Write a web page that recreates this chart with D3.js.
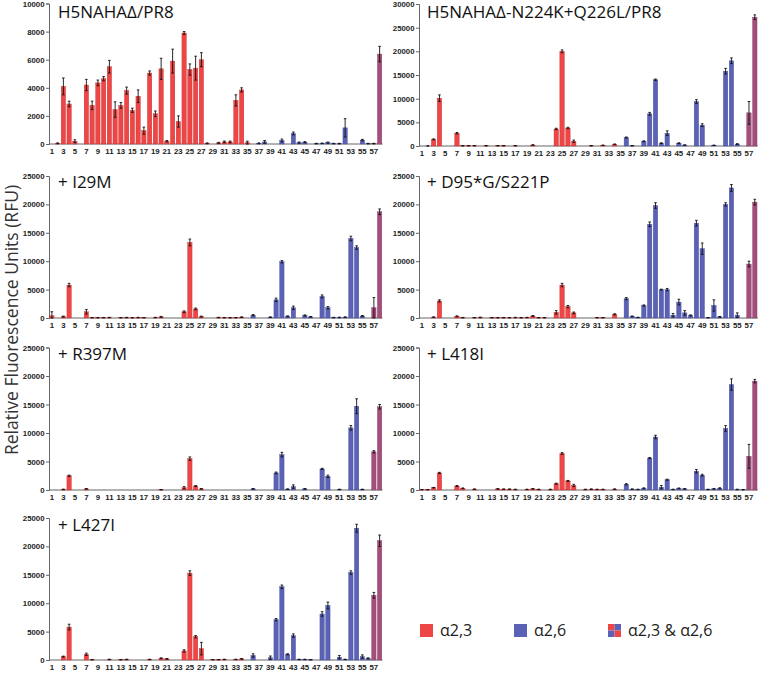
<!DOCTYPE html>
<html><head><meta charset="utf-8">
<script src="https://cdn.jsdelivr.net/npm/d3@7"></script>
<style>body{margin:0;background:#fff}svg{display:block}</style>
</head><body>
<svg id="chart" width="760" height="673"></svg>
<script>
// ---------- DATA ----------
const categories = [1,2,3,4,5,6,7,8,9,10,11,12,13,14,15,16,17,18,19,20,21,22,23,24,25,26,27,28,29,30,31,32,33,34,35,36,37,38,39,40,41,42,43,44,45,46,47,48,49,50,51,52,53,54,55,56,57,58];
const glycanType = ["a23","a23","a23","a23","a23","a23","a23","a23","a23","a23","a23","a23","a23","a23","a23","a23","a23","a23","a23","a23","a23","a23","a23","a23","a23","a23","a23","a23","a23","a23","a23","a23","a23","a23","a23",
  "a26","a26","a26","a26","a26","a26","a26","a26","a26","a26","a26","a26","a26","a26","a26","a26","a26","a26","a26","a26","a26",
  "both","both"];
const xTickLabels = [1,3,5,7,9,11,13,15,17,19,21,23,25,27,29,31,33,35,37,39,41,43,45,47,49,51,53,55,57];
const panelTitles = ["H5NAHAΔ/PR8","H5NAHAΔ-N224K+Q226L/PR8","+ I29M","+ D95*G/S221P","+ R397M","+ L418I","+ L427I"];
const yMaxes = [10000,30000,25000,25000,25000,25000,25000];
const yTicksA = [0,2000,4000,6000,8000,10000];
const yTicksB = [0,5000,10000,15000,20000,25000,30000];
const yTicksC = [0,5000,10000,15000,20000,25000];
const legendLabels = ["α2,3","α2,6","α2,3 & α2,6"];
const yTitle = "Relative Fluorescence Units (RFU)";

const valsA = [0,50,4100,2850,200,0,4200,2750,4350,4650,5500,2450,2750,3800,2400,3400,950,5050,2150,5350,200,5900,1600,7900,5300,5400,6000,50,0,80,150,150,3100,3850,100,0,50,150,0,0,250,0,750,100,130,0,30,50,100,30,30,1150,0,0,280,30,30,6400];
const errA  = [0,30,600,200,100,0,400,300,200,150,450,550,200,250,150,450,250,150,200,750,50,850,400,100,400,850,500,30,0,40,60,60,400,150,100,0,30,100,0,0,100,0,100,40,40,0,20,20,40,20,20,650,0,0,50,20,20,550];

const valsB = [0,0,1400,10100,0,0,2700,50,50,50,0,50,0,50,50,0,50,0,0,200,0,0,0,3600,20000,3800,1000,0,0,50,0,150,0,350,0,1800,50,0,1000,6800,14000,600,2700,0,600,200,0,9400,4400,0,150,0,15800,18000,400,0,7000,27200];
const errB  = [0,30,100,700,0,0,150,30,30,30,0,30,0,30,30,0,30,0,0,80,0,0,0,150,300,150,250,0,0,30,0,60,0,80,0,100,30,0,100,300,150,80,500,0,80,50,0,400,300,0,50,0,600,600,100,0,2400,500];

const valsC = [400,0,250,5800,0,0,1100,50,50,50,80,0,50,80,50,80,50,0,80,200,0,0,0,1100,13300,1600,250,0,0,80,50,50,50,150,0,500,0,0,150,3200,9900,300,1800,0,450,200,0,3800,1800,80,100,150,14000,12400,350,0,1800,18700];
const errC  = [700,0,80,300,0,0,400,30,30,30,40,0,30,40,30,40,30,0,40,80,0,0,0,150,600,150,80,0,0,40,30,30,30,60,0,100,0,0,50,300,200,80,300,0,100,60,0,250,200,40,50,50,400,300,80,0,1800,500];

const valsD = [0,0,150,3000,0,0,300,50,0,50,100,0,50,50,50,50,80,50,80,350,50,50,0,1000,5800,2000,900,0,0,0,50,50,0,650,0,3400,300,100,2200,16500,19800,5000,5000,500,2800,900,450,16700,12200,50,2200,200,20000,22900,500,0,9500,20400];
const errD  = [0,0,60,200,0,0,80,30,0,30,50,0,30,30,30,30,40,30,40,80,30,30,0,300,300,200,150,0,0,0,30,30,0,100,0,200,60,40,100,400,500,80,200,300,500,400,100,500,1000,30,1000,60,300,600,400,0,500,500];

const valsE = [0,0,100,2500,0,0,200,0,0,0,0,0,0,0,0,0,0,0,0,50,0,0,0,400,5500,700,200,0,0,0,0,0,0,0,0,200,0,0,0,3000,6200,150,600,0,200,0,0,3700,2400,0,100,0,10900,14700,100,0,6700,14600];
const errE  = [0,0,50,100,0,0,60,0,0,0,0,0,0,0,0,0,0,0,0,30,0,0,0,200,300,100,60,0,0,0,0,0,0,0,0,60,0,0,0,150,400,50,300,0,50,0,0,100,200,0,40,0,400,1300,40,0,200,400];

const valsF = [50,50,400,3000,0,0,700,300,0,150,0,0,0,200,150,150,100,0,100,200,100,0,100,1100,6400,1600,800,0,100,150,100,100,0,150,0,1000,150,100,300,5600,9300,500,1800,100,300,200,0,3300,2600,100,200,300,10800,18500,100,50,5900,19100];
const errF  = [30,30,50,100,0,0,80,60,0,40,0,0,0,50,40,40,40,0,40,50,40,0,40,100,150,80,200,0,40,40,40,40,0,40,0,100,40,40,80,100,300,300,100,40,60,50,0,300,150,40,50,100,500,1000,40,30,2100,300];

const valsG = [0,0,600,5800,0,0,1000,50,0,0,100,0,50,100,0,0,0,100,0,300,200,0,0,1600,15300,4100,2000,0,50,50,100,0,100,200,0,800,0,0,400,7100,12900,1000,4300,100,100,50,0,8100,9600,0,500,100,15400,23200,600,300,11400,21000];
const errG  = [0,0,80,500,0,0,200,30,0,0,40,0,30,40,0,0,0,40,0,80,60,0,0,200,400,200,1100,0,30,30,40,0,40,60,0,300,0,0,300,200,300,100,300,40,40,30,0,400,600,0,300,40,300,700,300,80,500,1000];

const panelValues = [valsA,valsB,valsC,valsD,valsE,valsF,valsG];
const panelErrors = [errA,errB,errC,errD,errE,errF,errG];
const panelTicks = [yTicksA,yTicksB,yTicksC,yTicksC,yTicksC,yTicksC,yTicksC];

// ---------- LAYOUT / STYLE ----------
const colors = {a23:"#ee4646", a26:"#5b62b6", both:"#a44f7b"};
const strokeColors = {a23:"#c93030", a26:"#444c9c", both:"#843a60"};
const layout = [
  {x0:49,  step:5.75, top:3.5, bottom:144, tx:58,  ty:18},
  {x0:419, step:5.84, top:4,   bottom:146, tx:427, ty:18},
  {x0:49,  step:5.75, top:176, bottom:318, tx:58,  ty:188},
  {x0:419, step:5.84, top:176, bottom:318, tx:427, ty:188},
  {x0:49,  step:5.75, top:347.5, bottom:490, tx:58, ty:360},
  {x0:419, step:5.84, top:347.5, bottom:490, tx:427, ty:360},
  {x0:49,  step:5.75, top:518, bottom:660, tx:58,  ty:531}
];

const svg = d3.select("#chart");
const tickFont = "'Liberation Sans', Arial, sans-serif";
const titleFont = "'Open Sans', 'Noto Sans', sans-serif";

layout.forEach((L, p) => {
  const vals = panelValues[p], errs = panelErrors[p];
  const x = d3.scaleBand().domain(categories)
    .range([L.x0, L.x0 + L.step * categories.length]).paddingInner(0.24).paddingOuter(0.12);
  const y = d3.scaleLinear().domain([0, yMaxes[p]]).range([L.bottom, L.top]);
  const g = svg.append("g");

  // y axis
  const yAxis = d3.axisLeft(y).tickValues(panelTicks[p]).tickSize(3).tickPadding(1.5).tickFormat(d3.format("d"));
  const ya = g.append("g").attr("transform", `translate(${L.x0},0)`).call(yAxis);
  ya.select(".domain").attr("stroke", "#666").attr("stroke-width", 1);
  ya.selectAll(".tick line").attr("stroke", "#666");
  ya.selectAll("text").attr("font-family", tickFont).attr("font-weight", "bold")
    .attr("font-size", 7.8).attr("fill", "#222");

  // x axis
  const xAxis = d3.axisBottom(x).tickValues(xTickLabels).tickSize(0).tickPadding(4);
  const xa = g.append("g").attr("transform", `translate(0,${L.bottom})`).call(xAxis);
  xa.select(".domain").attr("stroke", "#666").attr("stroke-width", 1)
    .attr("d", `M${L.x0},0H${L.x0 + L.step * categories.length}`);
  xa.selectAll("text").attr("font-family", tickFont).attr("font-weight", "bold")
    .attr("font-size", 7.8).attr("fill", "#222");

  // bars
  g.append("g").selectAll("rect").data(categories).join("rect")
    .attr("x", (c) => x(c))
    .attr("width", x.bandwidth())
    .attr("y", (c, i) => y(vals[i]))
    .attr("height", (c, i) => Math.max(0, y(0) - y(vals[i])))
    .attr("fill", (c, i) => colors[glycanType[i]])
    .attr("stroke", (c, i) => strokeColors[glycanType[i]])
    .attr("stroke-width", 0.4);

  // error bars
  const eb = g.append("g").attr("stroke", "#111").attr("stroke-width", 0.9);
  categories.forEach((c, i) => {
    if (errs[i] <= 0) return;
    const cx = x(c) + x.bandwidth() / 2;
    const lo = Math.max(0, vals[i] - errs[i]), hi = vals[i] + errs[i];
    eb.append("line").attr("x1", cx).attr("x2", cx).attr("y1", y(lo)).attr("y2", y(hi));
    eb.append("line").attr("x1", cx - 1.3).attr("x2", cx + 1.3).attr("y1", y(hi)).attr("y2", y(hi));
    eb.append("line").attr("x1", cx - 1.3).attr("x2", cx + 1.3).attr("y1", y(lo)).attr("y2", y(lo));
  });

  // title
  svg.append("text").attr("x", L.tx).attr("y", L.ty)
    .attr("font-family", titleFont).attr("font-size", 17).attr("fill", "#111")
    .text(panelTitles[p]);
});

// y-axis title
svg.append("text")
  .attr("transform", "translate(18,320) rotate(-90)")
  .attr("text-anchor", "middle")
  .attr("font-family", titleFont).attr("font-size", 17.5).attr("fill", "#333")
  .text(yTitle);

// legend
const legendX = [420, 514, 608];
const legendY = 624;
const sw = 13;
const lg = svg.append("g");
lg.append("rect").attr("x", legendX[0]).attr("y", legendY).attr("width", sw).attr("height", sw).attr("fill", colors.a23);
lg.append("rect").attr("x", legendX[1]).attr("y", legendY).attr("width", sw).attr("height", sw).attr("fill", colors.a26);
const h = sw / 2;
[[0,0,colors.a23],[h,0,colors.a26],[0,h,colors.a26],[h,h,colors.a23]].forEach(([dx,dy,c]) => {
  lg.append("rect").attr("x", legendX[2] + dx).attr("y", legendY + dy).attr("width", h).attr("height", h).attr("fill", c);
});
legendLabels.forEach((t, i) => {
  lg.append("text").attr("x", legendX[i] + sw + 7).attr("y", legendY + sw / 2)
    .attr("dy", "0.36em")
    .attr("font-family", titleFont).attr("font-size", 16).attr("fill", "#222").text(t);
});
</script>
</body></html>
